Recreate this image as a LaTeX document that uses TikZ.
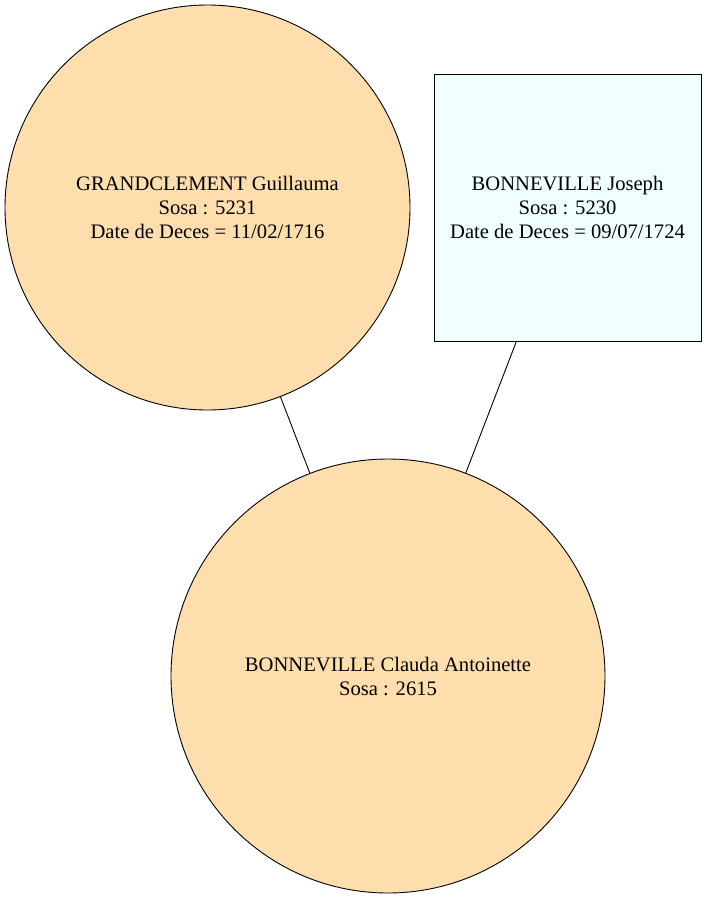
\documentclass[tikz,border=0pt]{standalone}
\usepackage{fontspec}
\setmainfont{Liberation Serif}
\definecolor{peach}{HTML}{FFDEAD}
\definecolor{azurefill}{HTML}{F0FFFF}
\begin{document}
\begin{tikzpicture}[x=1pt,y=-1pt,
  person/.style={draw=black, line width=0.9pt, align=center, inner sep=0pt,
    font=\fontsize{20.6}{24}\selectfont},
  femme/.style={person, circle, fill=peach},
  homme/.style={person, rectangle, fill=azurefill},
  link/.style={draw=black, line width=0.9pt}]
\useasboundingbox (0,0) rectangle (707,900);
\node[femme, minimum size=405pt] (g) at (207.5,207.5)
  {GRANDCLEMENT Guillauma\\Sosa : 5231\\Date de Deces = 11/02/1716};
\node[homme, minimum width=267pt, minimum height=267pt] (j) at (567.5,207.5)
  {BONNEVILLE Joseph\\Sosa : 5230\\Date de Deces = 09/07/1724};
\node[femme, minimum size=434pt] (c) at (388,676)
  {BONNEVILLE Clauda Antoinette\\Sosa : 2615};
\draw[link] (g) -- (c);
\draw[link] (j) -- (c);
\end{tikzpicture}
\end{document}
